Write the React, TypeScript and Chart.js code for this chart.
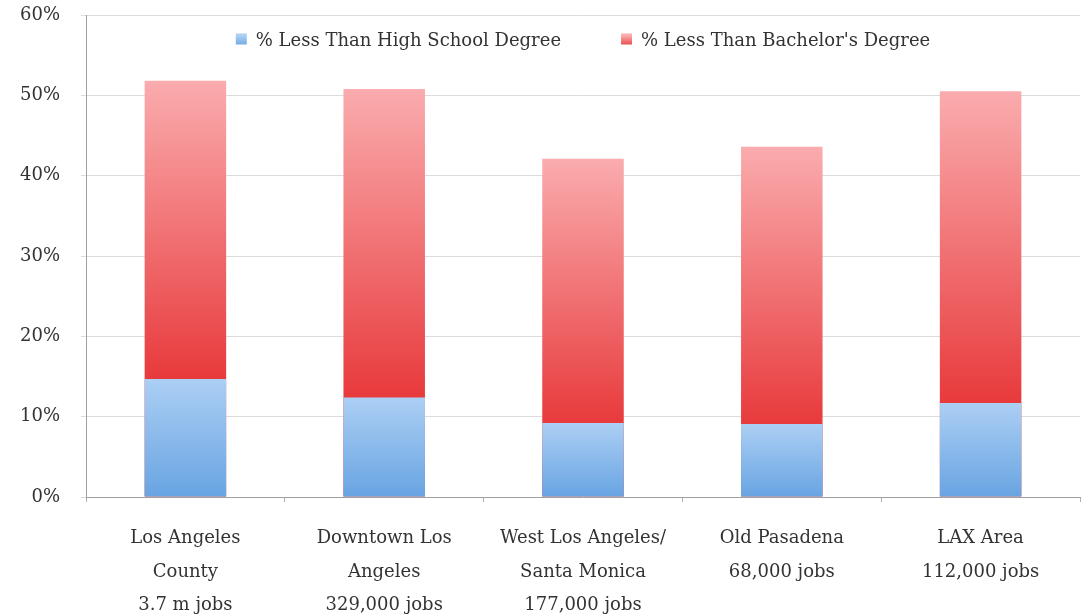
import React, { useEffect, useRef } from "react";
import { Chart, registerables } from "chart.js";

Chart.register(...registerables);

const categories: string[][] = [
  ["Los Angeles", "County", "3.7 m jobs"],
  ["Downtown Los", "Angeles", "329,000 jobs"],
  ["West Los Angeles/", "Santa Monica", "177,000 jobs"],
  ["Old Pasadena", "68,000 jobs"],
  ["LAX Area", "112,000 jobs"],
];
const lessThanHighSchool = [14.7, 12.4, 9.2, 9.1, 11.7];
const lessThanBachelors = [51.8, 50.8, 42.1, 43.6, 50.5];
const seriesLabels = ["% Less Than High School Degree", "% Less Than Bachelor's Degree"];
const yTicks = [0, 10, 20, 30, 40, 50, 60];

const FONT = "'DejaVu Serif', 'Liberation Serif', serif";
const TEXT = "#333333";

const BLUE_TOP = "rgb(172,207,244)";
const BLUE_BOT = "rgb(104,164,226)";
const RED_TOP = "rgb(250,172,174)";
const RED_BOT = "rgb(232,58,60)";

function blueFill(c: any) {
  const chart = c.chart;
  if (c.type !== "data" || !chart.chartArea) return BLUE_BOT;
  const y = chart.scales.y;
  const top = y.getPixelForValue(lessThanHighSchool[c.dataIndex]);
  const bot = y.getPixelForValue(0);
  const g = chart.ctx.createLinearGradient(0, top, 0, bot);
  g.addColorStop(0, BLUE_TOP);
  g.addColorStop(1, BLUE_BOT);
  return g;
}

function redFill(c: any) {
  const chart = c.chart;
  if (c.type !== "data" || !chart.chartArea) return RED_BOT;
  const y = chart.scales.y;
  const top = y.getPixelForValue(lessThanBachelors[c.dataIndex]);
  const bot = y.getPixelForValue(lessThanHighSchool[c.dataIndex]);
  const g = chart.ctx.createLinearGradient(0, top, 0, bot);
  g.addColorStop(0, RED_TOP);
  g.addColorStop(1, RED_BOT);
  return g;
}

const legendPlugin = {
  id: "insideLegend",
  afterDraw(chart: any) {
    const ctx = chart.ctx;
    const area = chart.chartArea;
    const box = 11;
    const gapBoxText = 9;
    const itemGap = 60;
    ctx.save();
    ctx.font = `18px ${FONT}`;
    const widths = seriesLabels.map((t) => ctx.measureText(t).width);
    const total = widths.reduce((a, w) => a + box + gapBoxText + w, 0) + itemGap * (seriesLabels.length - 1);
    let x = (area.left + area.right) / 2 - total / 2;
    const cy = 41;
    const cols = [[BLUE_TOP, BLUE_BOT], [RED_TOP, RED_BOT]];
    seriesLabels.forEach((t, i) => {
      const g = ctx.createLinearGradient(0, cy - box / 2, 0, cy + box / 2);
      g.addColorStop(0, cols[i][0]);
      g.addColorStop(1, cols[i][1]);
      ctx.fillStyle = g;
      ctx.fillRect(x, cy - box / 2 - 2, box, box);
      x += box + gapBoxText;
      ctx.fillStyle = TEXT;
      ctx.textBaseline = "middle";
      ctx.textAlign = "left";
      ctx.fillText(t, x, cy);
      x += widths[i] + itemGap;
    });
    ctx.restore();
  },
};

export default function App() {
  const ref = useRef<HTMLCanvasElement | null>(null);

  useEffect(() => {
    document.body.style.margin = "0";
    document.body.style.overflow = "hidden";
    document.documentElement.style.overflow = "hidden";
    if (!ref.current) return;
    const chart = new Chart(ref.current, {
      type: "bar",
      data: {
        labels: categories,
        datasets: [
          {
            label: seriesLabels[0],
            data: lessThanHighSchool,
            backgroundColor: blueFill,
            borderWidth: 0,
            barPercentage: 0.41,
            categoryPercentage: 1,
          },
          {
            label: seriesLabels[1],
            data: lessThanBachelors,
            backgroundColor: redFill,
            borderWidth: 0,
            barPercentage: 0.41,
            categoryPercentage: 1,
          },
        ],
      },
      options: {
        animation: false,
        responsive: false,
        maintainAspectRatio: false,
        layout: { padding: { top: 15, right: 3, bottom: 0, left: 0 } },
        plugins: {
          legend: { display: false },
          tooltip: { enabled: false },
        },
        scales: {
          x: {
            stacked: true,
            offset: true,
            grid: {
              display: true,
              drawOnChartArea: false,
              offset: true,
              tickLength: 5,
              color: "#b0b0b0",
            },
            border: { color: "#a0a0a0" },
            ticks: {
              color: TEXT,
              padding: 20,
              maxRotation: 0,
              autoSkip: false,
              font: { family: FONT, size: 18, lineHeight: 1.86 },
            },
            afterFit(scale: any) {
              scale.height = 640 - 497;
              scale.paddingTop = 0;
              scale.paddingBottom = 0;
              scale.paddingLeft = 0;
              scale.paddingRight = 0;
            },
          },
          y: {
            stacked: false,
            min: 0,
            max: 60,
            afterBuildTicks(scale: any) {
              scale.ticks = yTicks.map((v) => ({ value: v }));
            },
            grid: {
              color: "#dcdcdc",
              tickLength: 5,
            },
            border: { color: "#a0a0a0" },
            ticks: {
              color: TEXT,
              padding: 21,
              font: { family: FONT, size: 18 },
              callback: (v: any) => `${v}%`,
            },
            afterFit(scale: any) {
              scale.width = 86;
              scale.paddingTop = 0;
              scale.paddingBottom = 0;
              scale.paddingLeft = 0;
              scale.paddingRight = 0;
            },
          },
        },
      },
      plugins: [legendPlugin],
    });
    return () => chart.destroy();
  }, []);

  return (
    <div style={{ width: 1083, height: 640, background: "#ffffff" }}>
      <canvas ref={ref} width={1083} height={640} style={{ display: "block" }} />
    </div>
  );
}
